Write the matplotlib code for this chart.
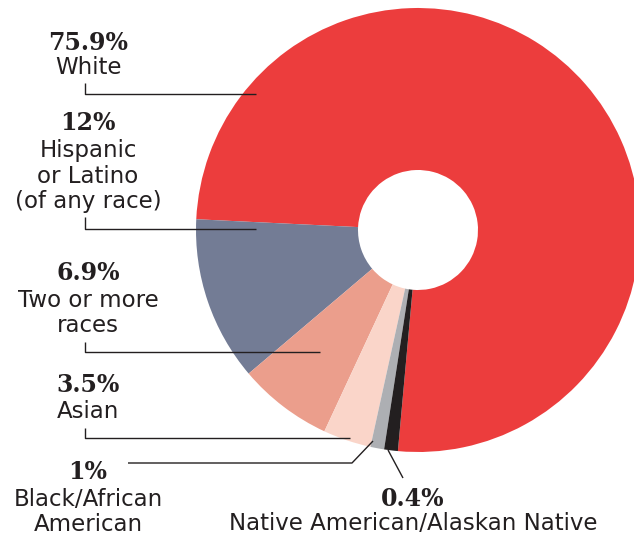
# donut chart of population share by race / ethnicity
import numpy as np
import matplotlib
matplotlib.use("Agg")
import matplotlib.pyplot as plt

W, H = 634, 536

groups = ["White", "Hispanic\nor Latino\n(of any race)", "Two or more\nraces",
          "Asian", "Black/African\nAmerican", "Native American/Alaskan Native"]
shares = [75.9, 12, 6.9, 3.5, 1, 0.4]
pct_labels = ["75.9%", "12%", "6.9%", "3.5%", "1%", "0.4%"]
colors = ["#EC3D3D", "#737C95", "#EB9E8C", "#FAD5C9", "#ADAFB3", "#231F20"]

ink = "#231F20"

# the tiny slices are drawn at a minimum width so they stay visible
drawn = np.maximum(np.array(shares, dtype=float), 1.0)

fig = plt.figure(figsize=(W / 100, H / 100), dpi=100)
ax = fig.add_axes([0, 0, 1, 1])

def py(y):
    # screen px (from top) -> data y
    return H - y

cx, cy, R, r_hole = 418, 230, 222, 60
ax.pie(drawn, colors=colors, startangle=264.8, counterclock=True,
       center=(cx, py(cy)), radius=R,
       wedgeprops=dict(width=R - r_hole, edgecolor="none", linewidth=0))
ax.set_xlim(0, W)
ax.set_ylim(0, H)
ax.set_aspect("equal")
ax.axis("off")

pct_font = dict(family="DejaVu Serif", weight="bold", size=17, color=ink)
lbl_font = dict(family="DejaVu Sans", size=16.5, color=ink, linespacing=1.13)

# text blocks: (x centre, baseline of pct, baseline of last label line)
blocks = [
    (88, 50, 74),
    (88, 130, 208),
    (88, 280, 332),
    (88, 392, 418),
    (88, 479, 531),
    (413, 506, 530),
]
for (x, yb_pct, yb_lbl), pct, name in zip(blocks, pct_labels, groups):
    ax.text(x, py(yb_pct), pct, ha="center", va="baseline", **pct_font)
    ax.text(x, py(yb_lbl), name, ha="center", va="baseline",
            multialignment="center", **lbl_font)

# leader lines (screen px)
leaders = [
    [(85, 83), (85, 94), (256, 94)],
    [(85, 217), (85, 229), (256, 229)],
    [(85, 342), (85, 352), (320, 352)],
    [(85, 428), (85, 438), (350, 438)],
    [(128, 463), (352, 463), (373, 441)],
    [(388, 450), (403, 478)],
]
for pts in leaders:
    xs = [p[0] for p in pts]
    ys = [py(p[1]) for p in pts]
    ax.plot(xs, ys, color=ink, lw=1.0, solid_capstyle="butt")

fig.savefig("out.png", dpi=100)
